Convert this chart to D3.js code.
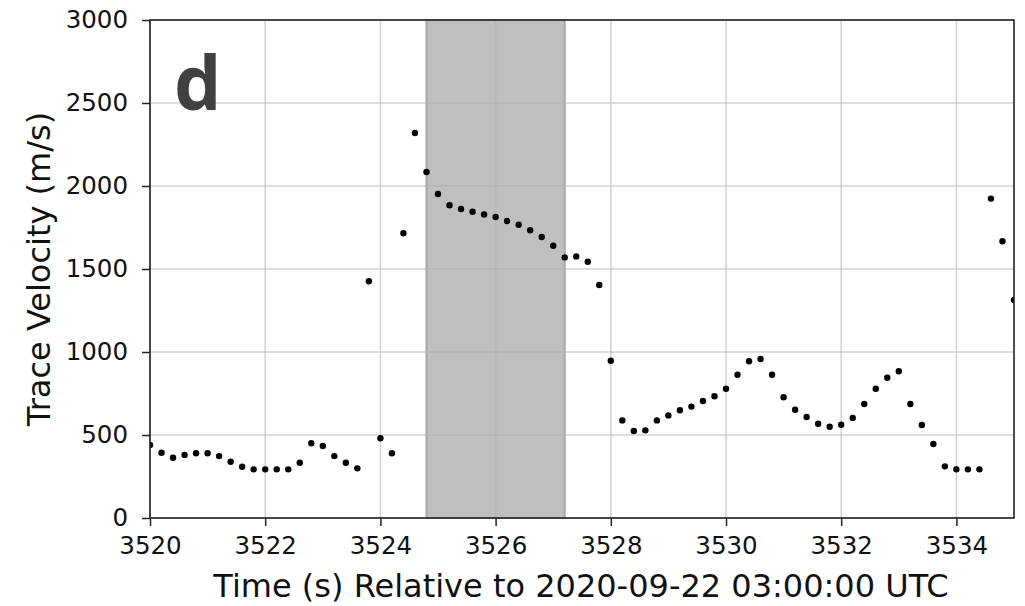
<!DOCTYPE html>
<html>
<head>
<meta charset="utf-8">
<script src="https://cdn.jsdelivr.net/npm/d3@7"></script>
<style>
  body { margin: 0; background: #fff; }
  svg { display: block; }
  text { font-family: "DejaVu Sans", sans-serif; fill: #111; }
</style>
</head>
<body>
<svg id="chart" width="1025" height="606"></svg>
<script>
// time stamps (s) relative to 2020-09-22 03:00:00 UTC
const times = [
  3520.0, 3520.2, 3520.4, 3520.6, 3520.8, 3521.0, 3521.2, 3521.4, 3521.6, 3521.8,
  3522.0, 3522.2, 3522.4, 3522.6, 3522.8, 3523.0, 3523.2, 3523.4, 3523.6, 3523.8,
  3524.0, 3524.2, 3524.4, 3524.6, 3524.8, 3525.0, 3525.2, 3525.4, 3525.6, 3525.8,
  3526.0, 3526.2, 3526.4, 3526.6, 3526.8, 3527.0, 3527.2, 3527.4, 3527.6, 3527.8,
  3528.0, 3528.2, 3528.4, 3528.6, 3528.8, 3529.0, 3529.2, 3529.4, 3529.6, 3529.8,
  3530.0, 3530.2, 3530.4, 3530.6, 3530.8, 3531.0, 3531.2, 3531.4, 3531.6, 3531.8,
  3532.0, 3532.2, 3532.4, 3532.6, 3532.8, 3533.0, 3533.2, 3533.4, 3533.6, 3533.8,
  3534.0, 3534.2, 3534.4, 3534.6, 3534.8, 3535.0
];

// trace velocity (m/s)
const velocity = [
  440, 393, 363, 380, 390, 390, 373, 339, 309, 293,
  293, 293, 293, 333, 450, 434, 373, 333, 299, 1426,
  480, 390, 1715, 2319, 2084, 1952, 1884, 1861, 1845, 1829,
  1813, 1789, 1767, 1733, 1693, 1640, 1570, 1576, 1544, 1404,
  947, 588, 524, 528, 588, 618, 649, 671, 705, 733,
  779, 863, 944, 958, 863, 727, 652, 608, 568, 550,
  562, 603, 687, 779, 845, 884, 687, 560, 446, 311,
  293, 293, 293, 1924, 1667, 1313
];

// highlighted window
const spanStart = 3524.8;
const spanEnd = 3527.2;

const xTicks = [3520, 3522, 3524, 3526, 3528, 3530, 3532, 3534];
const yTicks = [0, 500, 1000, 1500, 2000, 2500, 3000];

const panelLabel = "d";
const xTitle = "Time (s) Relative to 2020-09-22 03:00:00 UTC";
const yTitle = "Trace Velocity (m/s)";

const margin = {top: 20, right: 11, bottom: 88, left: 150};
const width = 1025 - margin.left - margin.right;
const height = 606 - margin.top - margin.bottom;

const data = times.map((t, i) => ({t: t, v: velocity[i]}));

const svg = d3.select("#chart");
const g = svg.append("g").attr("transform", `translate(${margin.left},${margin.top})`);

const x = d3.scaleLinear().domain([3520, 3535]).range([0, width]);
const y = d3.scaleLinear().domain([0, 3000]).range([height, 0]);

g.append("clipPath").attr("id", "clip")
  .append("rect").attr("width", width).attr("height", height);

// shaded window
g.append("rect")
  .attr("x", x(spanStart))
  .attr("y", 0)
  .attr("width", x(spanEnd) - x(spanStart))
  .attr("height", height)
  .attr("fill", "#bfbfbf")
  .attr("stroke", "#a8a8a8")
  .attr("stroke-width", 2);

// grid
g.append("g")
  .selectAll("line")
  .data(xTicks)
  .join("line")
  .attr("x1", d => x(d)).attr("x2", d => x(d))
  .attr("y1", 0).attr("y2", height)
  .attr("stroke", "#b0b0b0").attr("stroke-opacity", 0.55).attr("stroke-width", 1.6);

g.append("g")
  .selectAll("line")
  .data(yTicks)
  .join("line")
  .attr("x1", 0).attr("x2", width)
  .attr("y1", d => y(d)).attr("y2", d => y(d))
  .attr("stroke", "#b0b0b0").attr("stroke-opacity", 0.55).attr("stroke-width", 1.6);

// points
g.append("g")
  .attr("clip-path", "url(#clip)")
  .selectAll("circle")
  .data(data)
  .join("circle")
  .attr("cx", d => x(d.t))
  .attr("cy", d => y(d.v))
  .attr("r", 3.2)
  .attr("fill", "#000");

// axes
const xAxis = g.append("g")
  .attr("transform", `translate(0,${height})`)
  .call(d3.axisBottom(x).tickValues(xTicks).tickFormat(d3.format("d")).tickSizeOuter(0).tickSize(8).tickPadding(11));

const yAxis = g.append("g")
  .call(d3.axisLeft(y).tickValues(yTicks).tickFormat(d3.format("d")).tickSizeOuter(0).tickSize(8).tickPadding(14));

[xAxis, yAxis].forEach(a => {
  a.select(".domain").remove();
  a.selectAll(".tick line").attr("stroke", "#222").attr("stroke-width", 1.5);
  a.selectAll(".tick text")
    .style("font-family", "DejaVu Sans")
    .attr("font-size", 24.5)
    .style("fill", "#111");
});

// frame
g.append("rect")
  .attr("width", width).attr("height", height)
  .attr("fill", "none").attr("stroke", "#222").attr("stroke-width", 1.6);

// titles
svg.append("text")
  .attr("x", margin.left + width / 2 - 1)
  .attr("y", 597)
  .attr("text-anchor", "middle")
  .attr("font-size", 32)
  .text(xTitle);

svg.append("text")
  .attr("transform", `translate(50,${margin.top + height / 2}) rotate(-90)`)
  .attr("text-anchor", "middle")
  .attr("font-size", 32)
  .text(yTitle);

svg.append("text")
  .attr("x", margin.left + 24)
  .attr("y", 110)
  .style("font-family", "'Open Sans', sans-serif")
  .style("font-weight", 700)
  .attr("font-size", 75)
  .style("fill", "#404040")
  .text(panelLabel);
</script>
</body>
</html>
